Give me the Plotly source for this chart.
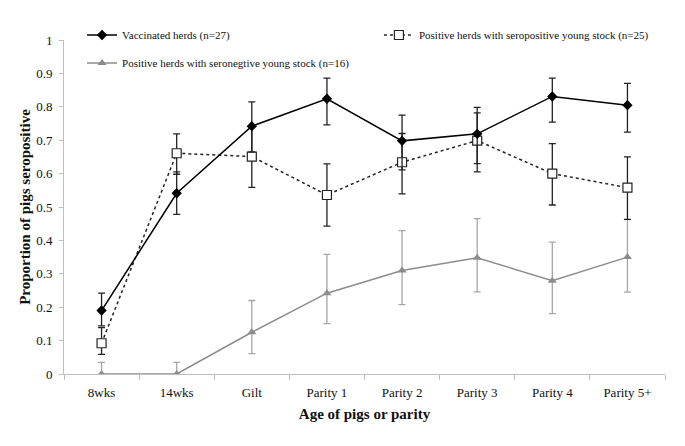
import plotly.graph_objects as go

categories = ["8wks", "14wks", "Gilt", "Parity 1", "Parity 2", "Parity 3", "Parity 4", "Parity 5+"]

vacc_vals = [0.190, 0.541, 0.742, 0.824, 0.698, 0.719, 0.831, 0.805]
vacc_upper = [0.242, 0.605, 0.815, 0.886, 0.775, 0.798, 0.886, 0.870]
vacc_lower = [0.144, 0.478, 0.665, 0.746, 0.611, 0.630, 0.754, 0.724]

pos_vals = [0.092, 0.661, 0.651, 0.536, 0.634, 0.699, 0.600, 0.558]
pos_upper = [0.139, 0.719, 0.740, 0.629, 0.720, 0.782, 0.690, 0.650]
pos_lower = [0.059, 0.598, 0.559, 0.443, 0.539, 0.605, 0.506, 0.463]

neg_vals = [0.000, 0.000, 0.125, 0.242, 0.310, 0.348, 0.279, 0.350]
neg_upper = [0.035, 0.035, 0.220, 0.358, 0.429, 0.465, 0.395, 0.462]
neg_lower = [0.000, 0.000, 0.061, 0.151, 0.208, 0.246, 0.181, 0.245]

yticks = [0, 0.1, 0.2, 0.3, 0.4, 0.5, 0.6, 0.7, 0.8, 0.9, 1]
ytick_text = ["0", "0.1", "0.2", "0.3", "0.4", "0.5", "0.6", "0.7", "0.8", "0.9", "1"]

FONT = "Liberation Serif, Times New Roman, serif"


def err(vals, up, lo):
    return dict(type="data", symmetric=False,
                array=[u - v for u, v in zip(up, vals)],
                arrayminus=[v - l for v, l in zip(vals, lo)])


fig = go.Figure()

e = err(neg_vals, neg_upper, neg_lower)
e.update(color="#a6a6a6", thickness=1.3, width=3.5)
fig.add_trace(go.Scatter(
    x=categories, y=neg_vals, mode="lines+markers",
    name="Positive herds with seronegtive young stock (n=16)",
    line=dict(color="#8c8c8c", width=1.5),
    marker=dict(symbol="triangle-up", size=8, color="#8c8c8c"),
    error_y=e, legend="legend3", showlegend=True))

e = err(pos_vals, pos_upper, pos_lower)
e.update(color="#222222", thickness=1.3, width=3.5)
fig.add_trace(go.Scatter(
    x=categories, y=pos_vals, mode="lines+markers",
    name="Positive herds with seropositive young stock (n=25)",
    line=dict(color="#222222", width=1.5, dash="dot"),
    marker=dict(symbol="square", size=9, color="white",
                line=dict(color="#222222", width=1.2)),
    error_y=e, legend="legend2", showlegend=True))

e = err(vacc_vals, vacc_upper, vacc_lower)
e.update(color="#222222", thickness=1.3, width=3.5)
fig.add_trace(go.Scatter(
    x=categories, y=vacc_vals, mode="lines+markers",
    name="Vaccinated herds (n=27)",
    line=dict(color="#000000", width=1.5),
    marker=dict(symbol="diamond", size=8, color="#000000"),
    error_y=e, legend="legend", showlegend=True))

leg_common = dict(font=dict(family=FONT, size=11, color="#111111"),
                  bgcolor="rgba(0,0,0,0)", xanchor="left", yanchor="middle",
                  itemwidth=30, tracegroupgap=0)

# page body has an 8px margin, so offset the figure margins to compensate
fig.update_layout(
    width=685, height=446,
    showlegend=True,
    margin=dict(l=56, r=28, t=32, b=80, autoexpand=False),
    paper_bgcolor="white", plot_bgcolor="white",
    font=dict(family=FONT, size=13, color="#111111"),
    legend=dict(x=0.030, y=1.015, **leg_common),
    legend2=dict(x=0.524, y=1.015, **leg_common),
    legend3=dict(x=0.030, y=0.931, **leg_common),
    xaxis=dict(
        type="category", categoryorder="array", categoryarray=categories,
        range=[-0.5, 7.5], showline=True, linecolor="#bfbfbf", linewidth=1,
        ticks="outside", tickson="boundaries", ticklen=5, tickcolor="#bfbfbf",
        ticklabelstandoff=6,
        showgrid=False, zeroline=False, automargin=False,
        tickfont=dict(family=FONT, size=13, color="#111111"),
        title=dict(text="<b>Age of pigs or parity</b>",
                   font=dict(family=FONT, size=15, color="#111111"), standoff=9),
    ),
    yaxis=dict(
        range=[0, 1], tickvals=yticks, ticktext=ytick_text,
        showline=True, linecolor="#bfbfbf", linewidth=1,
        ticks="outside", ticklen=4, tickcolor="#bfbfbf",
        ticklabelstandoff=4,
        showgrid=False, zeroline=False, automargin=False,
        tickfont=dict(family=FONT, size=13, color="#111111"),
        title=dict(text="<b>Proportion of pigs seropositive</b>",
                   font=dict(family=FONT, size=15, color="#111111"), standoff=1),
    ),
)

fig.write_html("out.html")
